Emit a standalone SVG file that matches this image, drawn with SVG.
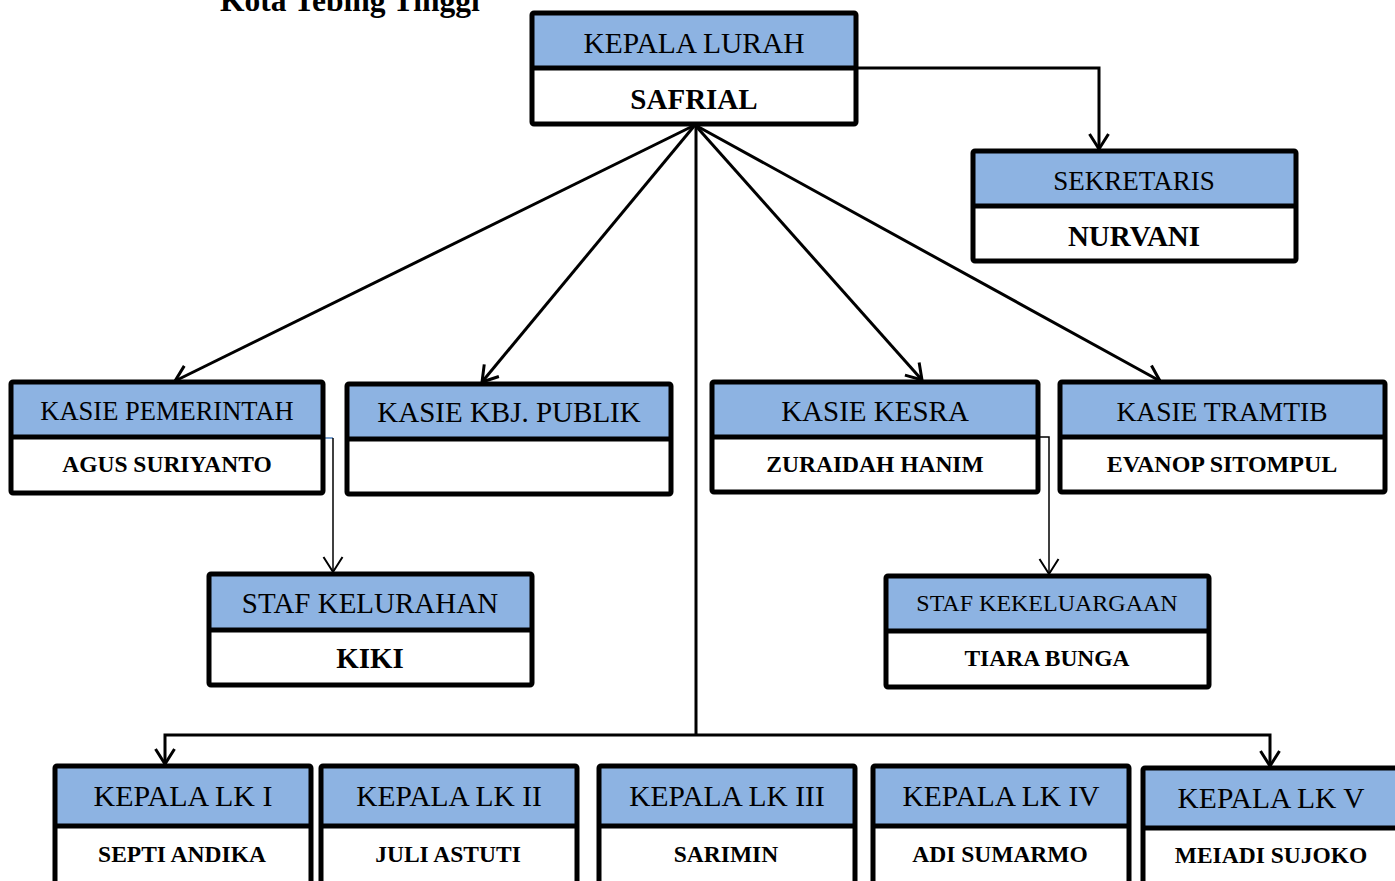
<svg xmlns="http://www.w3.org/2000/svg" width="1395" height="881" viewBox="0 0 1395 881">
<style>
.bg{fill:#ffffff}
.hd{fill:#8DB3E2}
.fr{fill:none;stroke:#000;stroke-width:5;stroke-linejoin:round}
.dv{stroke:#000;stroke-width:5}
.t{font-family:"Liberation Serif","Times New Roman",serif;fill:#000;text-anchor:middle}
.b{font-weight:bold}
.c{fill:none;stroke:#000;stroke-width:3}
.cs{fill:none;stroke:#000;stroke-width:1.5}
</style>
<defs>
<marker id="ah" markerUnits="userSpaceOnUse" viewBox="-18 -12 21 24" refX="0" refY="0" markerWidth="21" markerHeight="24" orient="auto">
<path d="M-15,-9.5 L0,0 L-15,9.5" fill="none" stroke="#000" stroke-width="3"/>
</marker>
<marker id="ahs" markerUnits="userSpaceOnUse" viewBox="-18 -12 21 24" refX="0" refY="0" markerWidth="21" markerHeight="24" orient="auto">
<path d="M-15,-9.5 L0,0 L-15,9.5" fill="none" stroke="#000" stroke-width="2"/>
</marker>
</defs>
<rect x="0" y="0" width="1395" height="881" fill="#fff"/>
<text class="t b" x="220" y="11" font-size="31.5" style="text-anchor:start">Kota Tebing Tinggi</text>

<g id="connectors">
<path class="c" d="M856,68 H1099 V149" marker-end="url(#ah)"/>
<path class="c" d="M695,125 L175,381" marker-end="url(#ah)"/>
<path class="c" d="M695,125 L482,382" marker-end="url(#ah)"/>
<path class="c" d="M695,125 L922,380" marker-end="url(#ah)"/>
<path class="c" d="M695,125 L1160,381" marker-end="url(#ah)"/>
<path class="c" d="M696,125 V735"/>
<path class="c" d="M696,735 H165 V764" marker-end="url(#ah)"/>
<path class="c" d="M696,735 H1270 V766" marker-end="url(#ah)"/>
<path fill="none" stroke="#4F81BD" stroke-width="1.5" d="M323,438 H333"/>
<path class="cs" d="M333,438 V572" marker-end="url(#ahs)"/>
<path class="cs" d="M1038,437 H1049 V574" marker-end="url(#ahs)"/>
</g>

<g id="kepala-lurah">
<rect class="bg" x="532" y="13" width="324" height="111"/>
<rect class="hd" x="532" y="13" width="324" height="55"/>
<line class="dv" x1="532" y1="68" x2="856" y2="68"/>
<rect class="fr" x="532" y="13" width="324" height="111" rx="2"/>
<text class="t" x="694" y="53" font-size="29.5">KEPALA LURAH</text>
<text class="t b" x="694" y="109" font-size="29">SAFRIAL</text>
</g>

<g id="sekretaris">
<rect class="bg" x="973" y="151" width="323" height="110"/>
<rect class="hd" x="973" y="151" width="323" height="55"/>
<line class="dv" x1="973" y1="206" x2="1296" y2="206"/>
<rect class="fr" x="973" y="151" width="323" height="110" rx="2"/>
<text class="t" x="1134" y="190" font-size="27">SEKRETARIS</text>
<text class="t b" x="1134" y="246" font-size="29">NURVANI</text>
</g>

<g id="kasie-pemerintah">
<rect class="bg" x="11" y="382" width="312" height="111"/>
<rect class="hd" x="11" y="382" width="312" height="55"/>
<line class="dv" x1="11" y1="437" x2="323" y2="437"/>
<rect class="fr" x="11" y="382" width="312" height="111" rx="2"/>
<text class="t" x="167" y="420" font-size="26.5">KASIE PEMERINTAH</text>
<text class="t b" x="167" y="472" font-size="23.5">AGUS SURIYANTO</text>
</g>

<g id="kasie-kbj-publik">
<rect class="bg" x="347" y="384" width="324" height="110"/>
<rect class="hd" x="347" y="384" width="324" height="55"/>
<line class="dv" x1="347" y1="439" x2="671" y2="439"/>
<rect class="fr" x="347" y="384" width="324" height="110" rx="2"/>
<text class="t" x="509" y="422" font-size="29">KASIE KBJ. PUBLIK</text>
</g>

<g id="kasie-kesra">
<rect class="bg" x="712" y="382" width="326" height="110"/>
<rect class="hd" x="712" y="382" width="326" height="55"/>
<line class="dv" x1="712" y1="437" x2="1038" y2="437"/>
<rect class="fr" x="712" y="382" width="326" height="110" rx="2"/>
<text class="t" x="875" y="421" font-size="29">KASIE KESRA</text>
<text class="t b" x="875" y="472" font-size="23.5">ZURAIDAH HANIM</text>
</g>

<g id="kasie-tramtib">
<rect class="bg" x="1060" y="382" width="325" height="110"/>
<rect class="hd" x="1060" y="382" width="325" height="55"/>
<line class="dv" x1="1060" y1="437" x2="1385" y2="437"/>
<rect class="fr" x="1060" y="382" width="325" height="110" rx="2"/>
<text class="t" x="1222" y="421" font-size="27.5">KASIE TRAMTIB</text>
<text class="t b" x="1222" y="472" font-size="24">EVANOP SITOMPUL</text>
</g>

<g id="staf-kelurahan">
<rect class="bg" x="209" y="574" width="323" height="111"/>
<rect class="hd" x="209" y="574" width="323" height="56"/>
<line class="dv" x1="209" y1="630" x2="532" y2="630"/>
<rect class="fr" x="209" y="574" width="323" height="111" rx="2"/>
<text class="t" x="370" y="613" font-size="29">STAF KELURAHAN</text>
<text class="t b" x="370" y="668" font-size="29">KIKI</text>
</g>

<g id="staf-kekeluargaan">
<rect class="bg" x="886" y="576" width="323" height="111"/>
<rect class="hd" x="886" y="576" width="323" height="55"/>
<line class="dv" x1="886" y1="631" x2="1209" y2="631"/>
<rect class="fr" x="886" y="576" width="323" height="111" rx="2"/>
<text class="t" x="1047" y="611" font-size="24">STAF KEKELUARGAAN</text>
<text class="t b" x="1047" y="666" font-size="23.5">TIARA BUNGA</text>
</g>

<g id="kepala-lk-1">
<rect class="bg" x="55" y="766" width="256" height="140"/>
<rect class="hd" x="55" y="766" width="256" height="60"/>
<line class="dv" x1="55" y1="826" x2="311" y2="826"/>
<rect class="fr" x="55" y="766" width="256" height="140" rx="2"/>
<text class="t" x="183" y="806" font-size="30">KEPALA LK I</text>
<text class="t b" x="182" y="862" font-size="23.5">SEPTI ANDIKA</text>
</g>

<g id="kepala-lk-2">
<rect class="bg" x="321" y="766" width="256" height="140"/>
<rect class="hd" x="321" y="766" width="256" height="60"/>
<line class="dv" x1="321" y1="826" x2="577" y2="826"/>
<rect class="fr" x="321" y="766" width="256" height="140" rx="2"/>
<text class="t" x="449" y="806" font-size="29.5">KEPALA LK II</text>
<text class="t b" x="448" y="862" font-size="23.5">JULI ASTUTI</text>
</g>

<g id="kepala-lk-3">
<rect class="bg" x="599" y="766" width="256" height="140"/>
<rect class="hd" x="599" y="766" width="256" height="60"/>
<line class="dv" x1="599" y1="826" x2="855" y2="826"/>
<rect class="fr" x="599" y="766" width="256" height="140" rx="2"/>
<text class="t" x="727" y="806" font-size="29.5">KEPALA LK III</text>
<text class="t b" x="726" y="862" font-size="23.5">SARIMIN</text>
</g>

<g id="kepala-lk-4">
<rect class="bg" x="873" y="766" width="256" height="140"/>
<rect class="hd" x="873" y="766" width="256" height="60"/>
<line class="dv" x1="873" y1="826" x2="1129" y2="826"/>
<rect class="fr" x="873" y="766" width="256" height="140" rx="2"/>
<text class="t" x="1001" y="806" font-size="29.5">KEPALA LK IV</text>
<text class="t b" x="1000" y="862" font-size="23.5">ADI SUMARMO</text>
</g>

<g id="kepala-lk-5">
<rect class="bg" x="1143" y="768" width="262" height="140"/>
<rect class="hd" x="1143" y="768" width="262" height="60"/>
<line class="dv" x1="1143" y1="828" x2="1405" y2="828"/>
<rect class="fr" x="1143" y="768" width="262" height="140" rx="2"/>
<text class="t" x="1271" y="808" font-size="29.5">KEPALA LK V</text>
<text class="t b" x="1271" y="863" font-size="23.5">MEIADI SUJOKO</text>
</g>
</svg>
